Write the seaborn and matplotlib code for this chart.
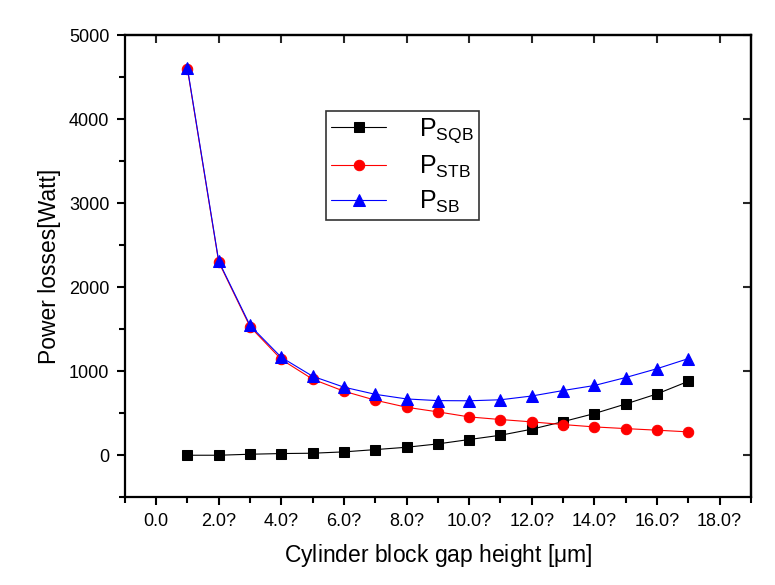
import numpy as np
import pandas as pd
import matplotlib
matplotlib.use("Agg")
import matplotlib.pyplot as plt
from matplotlib.ticker import MultipleLocator, FixedLocator, FixedFormatter
import seaborn as sns

gap = [1, 2, 3, 4, 5, 6, 7, 8, 9, 10, 11, 12, 13, 14, 15, 16, 17]
p_sqb = [0, 0, 12, 20, 24, 40, 67, 95, 135, 187, 238, 310, 400, 496, 610, 730, 880]
p_stb = [4600, 2300, 1530, 1140, 905, 762, 655, 571, 516, 456, 425, 397, 365, 337, 317, 298, 278]
p_sb = [4610, 2310, 1545, 1165, 940, 810, 725, 670, 650, 648, 660, 705, 770, 830, 925, 1030, 1150]

x_ticks = [0, 2, 4, 6, 8, 10, 12, 14, 16, 18]
x_labels = ["0.0", "2.0?", "4.0?", "6.0?", "8.0?", "10.0?", "12.0?", "14.0?", "16.0?", "18.0?"]

sns.set_style("white")
plt.rcParams["font.family"] = ["Liberation Sans", "DejaVu Sans"]
plt.rcParams["mathtext.fontset"] = "custom"
plt.rcParams["mathtext.rm"] = "Liberation Sans"
plt.rcParams["text.color"] = "black"
plt.rcParams["axes.labelcolor"] = "black"

df = pd.DataFrame({"gap": gap, "sqb": p_sqb, "stb": p_stb, "sb": p_sb})

fig = plt.figure(figsize=(7.75, 5.85), dpi=100)
ax = fig.add_axes([0.161, 0.150, 0.808, 0.790])

series = [
    ("sqb", "black", "s", 6.5, r"$\mathrm{P}_{\mathrm{SQB}}$"),
    ("stb", "red", "o", 7.5, r"$\mathrm{P}_{\mathrm{STB}}$"),
    ("sb", "blue", "^", 8, r"$\mathrm{P}_{\mathrm{SB}}$"),
]
for col, color, marker, ms, label in series:
    sns.lineplot(data=df, x="gap", y=col, ax=ax, color=color, marker=marker,
                 markersize=ms, markeredgecolor=color, linewidth=0.8, label=label)

ax.set_xlim(-1, 19)
ax.set_ylim(-500, 5000)
ax.xaxis.set_major_locator(FixedLocator(x_ticks))
ax.xaxis.set_major_formatter(FixedFormatter(x_labels))
ax.xaxis.set_minor_locator(MultipleLocator(1))
ax.yaxis.set_major_locator(MultipleLocator(1000))
ax.yaxis.set_minor_locator(MultipleLocator(500))
ax.tick_params(which="both", bottom=True, left=True, top=False, right=False)
ax.tick_params(which="major", direction="out", length=6, width=1.5, labelsize=13,
               colors="black", pad=5)
ax.tick_params(which="minor", direction="out", length=4, width=1.5, colors="black")
for s in ax.spines.values():
    s.set_linewidth(1.6)
    s.set_color("black")

top = ax.secondary_xaxis("top")
top.xaxis.set_major_locator(FixedLocator(x_ticks))
top.tick_params(top=True, direction="in", length=6, width=1.5, labeltop=False)
top.spines["top"].set_linewidth(1.6)
right = ax.secondary_yaxis("right")
right.yaxis.set_major_locator(MultipleLocator(1000))
right.tick_params(right=True, direction="in", length=6, width=1.5, labelright=False)
right.spines["right"].set_linewidth(1.6)

ax.set_xlabel(r"Cylinder block gap height [$\mathrm{\mu}$m]", fontsize=16.5, labelpad=9)
ax.set_ylabel("Power losses[Watt]", fontsize=16.5, labelpad=6)

leg = ax.legend(loc="upper left", bbox_to_anchor=(0.322, 0.835), fontsize=18,
                frameon=True, fancybox=False, edgecolor="black", handlelength=2.2,
                borderpad=0.2, labelspacing=0.35, handletextpad=1.3, borderaxespad=0)
leg.get_frame().set_linewidth(1.2)

fig.savefig("out.png", dpi=100)
